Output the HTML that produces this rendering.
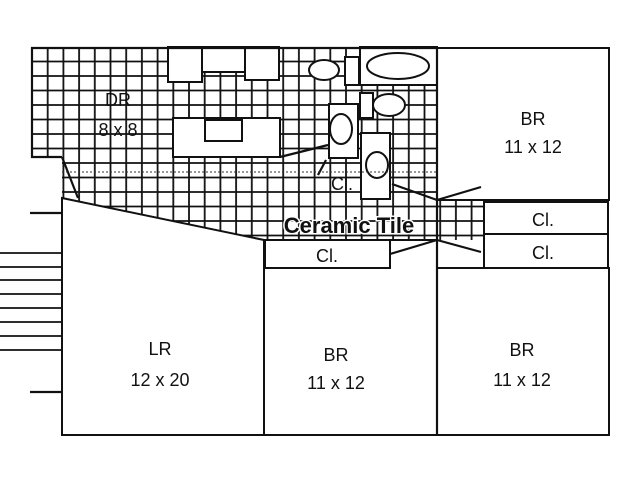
<!DOCTYPE html>
<html><head><style>
html,body{margin:0;padding:0;background:#fff;}
svg{display:block;}
text{font-family:"Liberation Sans",sans-serif;fill:#111;}
</style></head><body>
<svg width="640" height="480" viewBox="0 0 640 480" xmlns="http://www.w3.org/2000/svg">
<defs>
<pattern id="g" x="31" y="46" width="15.7" height="14.5" patternUnits="userSpaceOnUse">
<path d="M1 0V14.5M0 1H15.7" stroke="#111" stroke-width="1.8" fill="none"/>
</pattern>
<clipPath id="tc"><polygon points="32,48 437,48 437,200 485,200 485,240 262,240 62,198 62,157 32,157"/></clipPath>
</defs>
<rect width="640" height="480" fill="#fff"/>
<rect x="0" y="0" width="640" height="480" fill="url(#g)" clip-path="url(#tc)"/>
<g stroke="#111" stroke-width="2" fill="#fff">
<rect x="168" y="47" width="34" height="35"/>
<rect x="202" y="47" width="43" height="25"/>
<rect x="245" y="47" width="34" height="33"/>
<rect x="173" y="118" width="107" height="39"/>
<rect x="205" y="120" width="37" height="21"/>
<rect x="360" y="47" width="77" height="38"/>
<ellipse cx="398" cy="66" rx="31" ry="13"/>
<ellipse cx="324" cy="70" rx="15" ry="10"/>
<rect x="345" y="57" width="14" height="28"/>
<rect x="360" y="93" width="13" height="25"/>
<ellipse cx="389" cy="105" rx="16" ry="11"/>
<rect x="329" y="104" width="29" height="54"/>
<ellipse cx="341" cy="129" rx="11" ry="15"/>
<rect x="361" y="133" width="29" height="66"/>
<ellipse cx="377" cy="165" rx="11" ry="13"/>
<rect x="437" y="48" width="172" height="152"/>
<polygon points="62,198 264,240 264,435 62,435"/>
<rect x="264" y="240" width="173" height="195"/>
<rect x="437" y="268" width="172" height="167"/>
<rect x="484" y="202" width="124" height="32"/>
<rect x="484" y="234" width="124" height="34"/>
<rect x="265" y="240" width="125" height="28"/>
</g>
<g stroke="#111" stroke-width="2.2" fill="none">
<polyline points="437,48 32,48 32,157 62,157"/>
<line x1="437" y1="48" x2="437" y2="435"/>
<line x1="62" y1="157" x2="78" y2="198"/>
<line x1="280" y1="157" x2="328" y2="145"/>
<line x1="326" y1="160" x2="318" y2="175"/>
<line x1="392" y1="184" x2="437" y2="200"/>
<line x1="437" y1="200" x2="481" y2="187"/>
<line x1="390" y1="254" x2="437" y2="240"/>
<line x1="437" y1="240" x2="481" y2="252"/>
<line x1="30" y1="213" x2="62" y2="213"/>
<line x1="30" y1="392" x2="62" y2="392"/>
</g>
<line x1="62" y1="172" x2="437" y2="172" stroke="#333" stroke-width="1" stroke-dasharray="2,2"/>
<g stroke="#111" stroke-width="1.8">
<line x1="0" y1="253" x2="62" y2="253"/>
<line x1="0" y1="267" x2="62" y2="267"/>
<line x1="0" y1="280" x2="62" y2="280"/>
<line x1="0" y1="294" x2="62" y2="294"/>
<line x1="0" y1="308" x2="62" y2="308"/>
<line x1="0" y1="322" x2="62" y2="322"/>
<line x1="0" y1="336" x2="62" y2="336"/>
<line x1="0" y1="350" x2="62" y2="350"/>
</g>
<g font-size="18" text-anchor="middle">
<text x="118" y="106">DR</text>
<text x="118" y="136">8 x 8</text>
<text x="533" y="125">BR</text>
<text x="533" y="153">11 x 12</text>
<text x="160" y="355">LR</text>
<text x="160" y="386">12 x 20</text>
<text x="336" y="361">BR</text>
<text x="336" y="389">11 x 12</text>
<text x="522" y="356">BR</text>
<text x="522" y="386">11 x 12</text>
<text x="543" y="226">Cl.</text>
<text x="543" y="259">Cl.</text>
<text x="327" y="262">Cl.</text>
<text x="342" y="190">Cl.</text>
</g>
<text x="349" y="233" font-size="22" font-weight="bold" text-anchor="middle" stroke="#fff" stroke-width="3" paint-order="stroke">Ceramic Tile</text>
</svg>
</body></html>
